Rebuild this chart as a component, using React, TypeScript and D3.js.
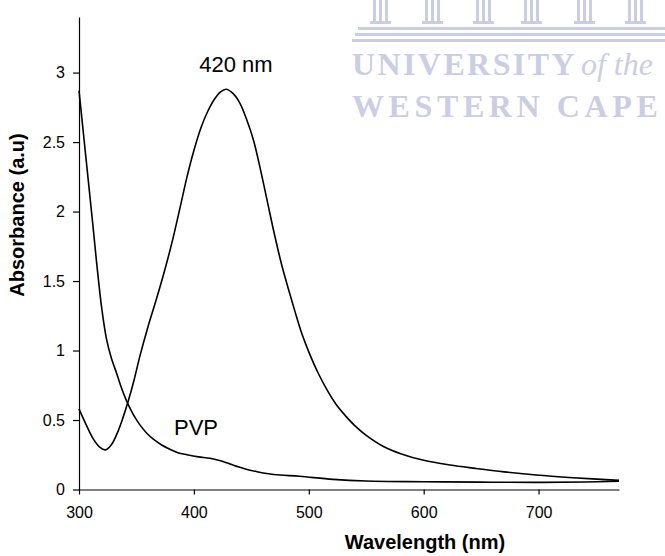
import React, { useEffect, useRef } from "react";
import * as d3 from "d3";

// silver nanoparticles curve (peak near 428 nm)
const agWavelength = [300, 306, 312, 318, 323, 328, 333, 338, 343, 348, 353, 360, 367, 374, 381, 388, 394, 400, 406, 412, 418, 423, 428, 434, 440, 446, 452, 458, 464, 470, 476, 482, 488, 494, 500, 508, 516, 524, 532, 540, 550, 565, 580, 600, 623, 645, 670, 698, 730, 770];
const agAbsorbance = [0.58, 0.47, 0.37, 0.305, 0.285, 0.32, 0.4, 0.51, 0.64, 0.79, 0.96, 1.17, 1.36, 1.56, 1.78, 2.03, 2.25, 2.44, 2.6, 2.72, 2.81, 2.86, 2.88, 2.85, 2.78, 2.66, 2.51, 2.3, 2.07, 1.84, 1.63, 1.45, 1.28, 1.12, 0.99, 0.84, 0.715, 0.61, 0.53, 0.46, 0.39, 0.31, 0.258, 0.21, 0.176, 0.152, 0.127, 0.104, 0.085, 0.066];

// PVP curve
const pvpWavelength = [300, 306, 312, 316, 320, 324, 328, 333, 337, 341, 345, 349, 353, 359, 365, 372, 379, 386, 394, 404, 414, 424, 434, 444, 455, 465, 475, 492, 521, 550, 600, 650, 698, 740, 770];
const pvpAbsorbance = [2.87, 2.39, 1.91, 1.58, 1.29, 1.08, 0.95, 0.83, 0.73, 0.645, 0.575, 0.515, 0.465, 0.405, 0.36, 0.32, 0.29, 0.265, 0.25, 0.235, 0.225, 0.205, 0.176, 0.15, 0.128, 0.113, 0.104, 0.095, 0.073, 0.061, 0.056, 0.053, 0.051, 0.054, 0.06];

const xTicks = [300, 400, 500, 600, 700];
const yTicks = [0, 0.5, 1, 1.5, 2, 2.5, 3];

const font = "Arial, 'Liberation Sans', sans-serif";
const serif = "'Liberation Serif', 'DejaVu Serif', serif";

const App = () => {
  const svgRef = useRef<SVGSVGElement>(null);

  useEffect(() => {
    const width = 665;
    const height = 556;
    const svg = d3.select(svgRef.current).attr("width", width).attr("height", height);
    svg.selectAll("*").remove();

    // faded watermark, top right
    const wm = svg.append("g").attr("fill", "#cbcee2");
    const colX = [373, 425, 476, 524, 577, 628];
    colX.forEach((cx) => {
      [0, 6, 12].forEach((dx) => {
        wm.append("rect").attr("x", cx + dx).attr("y", 0).attr("width", 3).attr("height", 22);
      });
      wm.append("rect").attr("x", cx - 3).attr("y", 21).attr("width", 21).attr("height", 3);
    });
    wm.append("rect").attr("x", 358).attr("y", 27).attr("width", 307).attr("height", 3);
    wm.append("rect").attr("x", 355).attr("y", 33).attr("width", 310).attr("height", 3);
    wm.append("rect").attr("x", 352).attr("y", 39).attr("width", 313).attr("height", 3);
    const t1 = wm.append("text")
      .attr("x", 352).attr("y", 75)
      .attr("font-family", serif).attr("font-weight", "bold")
      .attr("font-size", 32).attr("letter-spacing", 2.4);
    t1.append("tspan").text("UNIVERSITY");
    t1.append("tspan").attr("font-style", "italic").attr("font-weight", "normal").attr("dx", 4).attr("letter-spacing", 0).text("of the");
    wm.append("text")
      .attr("x", 352).attr("y", 117)
      .attr("font-family", serif).attr("font-weight", "bold")
      .attr("font-size", 32).attr("letter-spacing", 4.6)
      .text("WESTERN CAPE");

    const x = d3.scaleLinear().domain([300, 770]).range([79, 619]);
    const y = d3.scaleLinear().domain([0, 3.4]).range([489.5, 17]);

    const xAxis = d3.axisBottom(x).tickValues(xTicks).tickSize(5).tickSizeOuter(0).tickPadding(12);
    const yAxis = d3.axisLeft(y).tickValues(yTicks).tickSize(6).tickSizeOuter(0).tickPadding(8).tickFormat((d) => String(d));

    const gx = svg.append("g").attr("transform", `translate(0,${y(0)})`).call(xAxis);
    const gy = svg.append("g").attr("transform", `translate(${x(300)},0)`).call(yAxis);
    [gx, gy].forEach((g) => {
      g.selectAll("text").attr("font-family", font).attr("font-size", 16).attr("fill", "#000");
      g.selectAll("line,path").attr("stroke", "#000").attr("stroke-width", 1.2);
    });

    const line = d3.line<[number, number]>()
      .x((d) => x(d[0]))
      .y((d) => y(d[1]))
      .curve(d3.curveCatmullRom.alpha(0.5));

    const series = [
      agWavelength.map((w, i) => [w, agAbsorbance[i]] as [number, number]),
      pvpWavelength.map((w, i) => [w, pvpAbsorbance[i]] as [number, number]),
    ];
    series.forEach((s) => {
      svg.append("path")
        .attr("d", line(s))
        .attr("fill", "none")
        .attr("stroke", "#000")
        .attr("stroke-width", 1.6);
    });

    // annotations
    svg.append("text").attr("x", 236).attr("y", 72).attr("text-anchor", "middle")
      .attr("font-family", font).attr("font-size", 22).text("420 nm");
    svg.append("text").attr("x", 196).attr("y", 435).attr("text-anchor", "middle")
      .attr("font-family", font).attr("font-size", 22).text("PVP");

    // axis titles
    svg.append("text").attr("x", 425).attr("y", 549).attr("text-anchor", "middle")
      .attr("font-family", font).attr("font-size", 20).attr("font-weight", "bold")
      .text("Wavelength (nm)");
    svg.append("text").attr("transform", "translate(24,215) rotate(-90)").attr("text-anchor", "middle")
      .attr("font-family", font).attr("font-size", 20).attr("font-weight", "bold")
      .text("Absorbance (a.u)");
  }, []);

  return <svg ref={svgRef} style={{ position: "absolute", left: 0, top: 0 }}></svg>;
};

export default App;
